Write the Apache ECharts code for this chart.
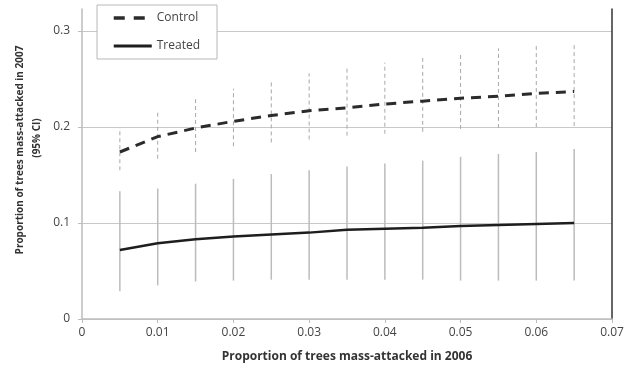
<!DOCTYPE html>
<html>
<head>
<meta charset="utf-8">
<script src="https://cdn.jsdelivr.net/npm/echarts@6/dist/echarts.min.js"></script>
<style>
  html, body { margin: 0; padding: 0; background: #fff; }
  #chart { width: 633px; height: 372px; }
</style>
</head>
<body>
<div id="chart"></div>
<script>
// x positions (proportion attacked in 2006)
const xValues = [0.005, 0.01, 0.015, 0.02, 0.025, 0.03, 0.035, 0.04, 0.045, 0.05, 0.055, 0.06, 0.065];

// control: mean and 95% CI
const controlMean = [0.174, 0.190, 0.199, 0.206, 0.212, 0.217, 0.220, 0.224, 0.227, 0.230, 0.232, 0.235, 0.237];
const controlLow  = [0.155, 0.167, 0.174, 0.180, 0.184, 0.187, 0.191, 0.193, 0.195, 0.198, 0.199, 0.200, 0.201];
const controlHigh = [0.199, 0.218, 0.229, 0.240, 0.249, 0.256, 0.261, 0.267, 0.272, 0.278, 0.282, 0.286, 0.288];

// treated: mean and 95% CI
const treatedMean = [0.072, 0.079, 0.083, 0.086, 0.088, 0.090, 0.093, 0.094, 0.095, 0.097, 0.098, 0.099, 0.100];
const treatedLow  = [0.029, 0.035, 0.039, 0.040, 0.041, 0.041, 0.041, 0.041, 0.041, 0.040, 0.040, 0.040, 0.040];
const treatedHigh = [0.133, 0.136, 0.141, 0.146, 0.151, 0.155, 0.159, 0.162, 0.165, 0.169, 0.172, 0.174, 0.177];

const yTicks = [0, 0.1, 0.2, 0.3];

const font = '"Open Sans", "DejaVu Sans", sans-serif';

const chart = echarts.init(document.getElementById('chart'));

// vertical CI bar drawn through the axes
const ciBar = (low, high, style) => (params, api) => {
  const x = xValues[params.dataIndex];
  const p1 = api.coord([x, low[params.dataIndex]]);
  const p2 = api.coord([x, high[params.dataIndex]]);
  return {
    type: 'line',
    shape: { x1: p1[0], y1: p1[1], x2: p2[0], y2: p2[1] },
    style: style
  };
};

const option = {
  animation: false,
  backgroundColor: '#fff',
  grid: { left: 82, right: 21, top: 9, bottom: 53 },
  legend: {
    data: [
      { name: 'Control', lineStyle: { width: 3.5, type: [11, 9], color: '#2b2b2b' } },
      { name: 'Treated', lineStyle: { width: 3, color: '#1e1e1e' } }
    ],
    orient: 'vertical',
    left: 97,
    top: 5,
    padding: [7, 17, 7, 15],
    itemGap: 16,
    itemWidth: 38,
    itemHeight: 14,
    backgroundColor: '#fff',
    borderColor: '#b8b8b8',
    borderWidth: 1,
    itemStyle: { opacity: 0 },
    textStyle: { fontFamily: font, fontSize: 12, color: '#444' }
  },
  xAxis: {
    type: 'value',
    min: 0,
    max: 0.07,
    interval: 0.01,
    axisLine: { lineStyle: { color: '#bdbdbd', width: 1.5 } },
    axisTick: { show: true, length: 4, lineStyle: { color: '#bdbdbd' } },
    axisLabel: { fontFamily: font, fontSize: 12, color: '#444', margin: 8 },
    splitLine: { show: false }
  },
  yAxis: [
    {
      type: 'value',
      min: 0,
      max: 0.323,
      axisLine: { show: true, lineStyle: { color: '#bdbdbd', width: 1.5 } },
      axisTick: { show: true, length: 4, customValues: yTicks, lineStyle: { color: '#bdbdbd' } },
      axisLabel: { fontFamily: font, fontSize: 12, color: '#444', margin: 12, customValues: yTicks },
      splitLine: { show: true, lineStyle: { color: '#c8c8c8', width: 1 } }
    },
    {
      type: 'value',
      position: 'right',
      min: 0,
      max: 0.323,
      axisLine: { show: true, lineStyle: { color: '#333', width: 1.5 } },
      axisTick: { show: false },
      axisLabel: { show: false },
      splitLine: { show: false }
    }
  ],
  graphic: [
    {
      type: 'text',
      x: 20, y: 150, rotation: Math.PI / 2,
      style: { text: 'Proportion of trees mass-attacked in 2007', font: 'bold 10px ' + font, fill: '#333', align: 'center', verticalAlign: 'middle' }
    },
    {
      type: 'text',
      x: 37, y: 138, rotation: Math.PI / 2,
      style: { text: '(95% CI)', font: 'bold 10px ' + font, fill: '#333', align: 'center', verticalAlign: 'middle' }
    },
    {
      type: 'text',
      x: 347, y: 357,
      style: { text: 'Proportion of trees mass-attacked in 2006', font: 'bold 12px ' + font, fill: '#333', align: 'center', verticalAlign: 'middle' }
    }
  ],
  series: [
    {
      name: 'Control CI',
      type: 'custom',
      renderItem: ciBar(controlLow, controlHigh, { stroke: '#a8a8a8', lineWidth: 1, lineDash: [4, 3] }),
      data: xValues.map((x, i) => [x, controlLow[i], controlHigh[i]]),
      z: 1
    },
    {
      name: 'Treated CI',
      type: 'custom',
      renderItem: ciBar(treatedLow, treatedHigh, { stroke: '#bcbcbc', lineWidth: 1.5 }),
      data: xValues.map((x, i) => [x, treatedLow[i], treatedHigh[i]]),
      z: 1
    },
    {
      name: 'Control',
      type: 'line',
      data: xValues.map((x, i) => [x, controlMean[i]]),
      symbol: 'none',
      smooth: false,
      lineStyle: { color: '#2b2b2b', width: 3, type: [10, 7] },
      itemStyle: { color: '#2b2b2b' },
      z: 3
    },
    {
      name: 'Treated',
      type: 'line',
      data: xValues.map((x, i) => [x, treatedMean[i]]),
      symbol: 'none',
      smooth: false,
      lineStyle: { color: '#1e1e1e', width: 2.5 },
      itemStyle: { color: '#1e1e1e' },
      z: 3
    }
  ]
};

chart.setOption(option);
</script>
</body>
</html>
